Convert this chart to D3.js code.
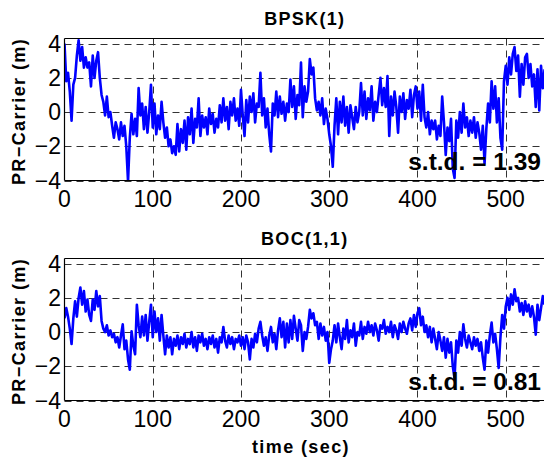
<!DOCTYPE html>
<html><head><meta charset="utf-8">
<script src="https://cdn.jsdelivr.net/npm/d3@7"></script>
<style>body{margin:0;background:#fff;} svg{display:block;}</style>
</head><body><svg id="c" width="544" height="459"></svg>
<script>
const timeStep = 2;
const bpsk = [
 4.0, 1.8, 2.3, 1.2, -0.5, 1.6, 2.0, 3.3, 4.2, 3.0,
 3.8, 2.6, 3.2, 2.6, 2.9, 1.5, 3.3, 2.0, 3.0, 3.5,
 2.0, 1.0, 0.6, -0.2, 0.9, -0.3, 0.0, -0.8, -1.5, -0.6,
 -1.0, -1.6, -0.6, -1.4, -0.8, -2.0, -4.05, -1.5, -0.1, -1.3,
 -0.4, -1.4, 1.4, -0.2, 0.5, -1.0, 0.3, -1.2, 0.0, 1.6,
 -0.9, 0.5, -1.3, -0.2, -1.0, 0.6, -0.6, -1.5, -0.9, -2.0,
 -1.6, -2.4, -2.0, -2.5, -0.7, -2.3, -1.0, -1.8, -0.5, -2.2,
 -0.3, -1.3, 0.2, -1.8, -0.4, -0.9, 0.8, -1.4, -0.2, -0.9,
 -0.3, -1.3, 0.2, -0.7, -0.1, -1.2, -0.4, -0.9, 0.4, -0.6,
 0.8, -0.5, 0.3, -1.0, 0.6, -0.2, 0.8, -0.5, 0.2, -0.8,
 1.3, -0.2, -1.4, 0.7, -0.6, 0.9, 0.0, 1.1, -0.6, 0.5,
 0.3, 2.3, -0.2, 0.8, -0.9, 0.2, -1.3, -2.3, 0.5, -0.2,
 1.2, -0.3, 0.9, -0.1, 0.6, -0.5, 0.5, 0.0, 1.9, 0.3,
 1.5, -0.4, 1.0, 0.4, 2.9, -0.3, 1.5, 0.6, 1.2, 3.1,
 2.2, 2.6, 0.8, 0.1, 0.6, -0.2, 0.8, -0.7, 0.2, -0.4,
 -1.3, -2.0, -3.2, -0.8, 0.8, -1.3, 0.6, -0.6, 0.9, -0.8,
 0.3, -1.2, 0.4, -0.3, -1.0, 0.3, -0.6, 0.0, 1.7, -0.2,
 1.2, -0.4, 0.8, 0.1, 1.5, -0.5, 0.6, 0.0, 1.0, 2.0,
 0.4, 1.4, 0.3, 2.1, -1.4, 0.9, -0.2, 1.2, 0.3, -1.2,
 0.9, 0.0, 1.1, -0.4, 0.7, 0.2, 1.3, -0.3, 1.0, 1.5,
 0.2, 1.2, -0.5, 1.6, -0.3, -0.9, 0.0, -1.3, -0.5, -1.0,
 -0.5, -1.6, -0.8, -1.4, 0.9, -0.6, -2.5, -0.9, -1.7, -0.4,
 -3.3, -3.85, -0.5, -1.5, 0.0, -1.2, 0.5, -0.9, -0.3, -1.4,
 -0.5, -1.2, -0.3, -1.5, -0.6, -1.2, -2.2, -0.8, -3.0, -1.0,
 0.5, -0.6, 1.8, 0.2, 1.5, -0.6, 0.8, -1.5, -2.2, 1.8,
 2.7, 1.6, 3.2, 2.2, 3.4, 3.8, 2.4, 3.3, 0.9, 2.8,
 1.6, 3.2, 3.4, 2.0, 2.8, 1.5, 2.2, 0.3, 2.5, 0.1,
 2.7, 1.4, 2.5
];
const boc = [
 0.8, 1.4, 0.9, 0.2, -0.7, 0.8, 1.8, 0.9, 2.0, 2.6,
 1.6, 2.4, 1.2, 1.9, 1.0, 0.65, 1.9, 1.3, 2.4, 1.5,
 2.1, 0.65, 0.2, 0.0, 0.4, -0.2, 0.1, -0.3, -0.1, -0.6,
 -0.3, -0.9, -0.2, 0.45, -1.0, -0.5, -1.6, -2.2, 0.05, -0.8,
 -1.3, 1.6, 0.4, -0.3, 0.9, -0.2, 1.0, -0.5, 0.6, 1.6,
 -0.3, 1.2, 0.0, 0.8, -0.5, 1.0, -0.2, -1.3, -0.2, -0.9,
 -0.3, -1.3, -0.4, -0.8, -0.2, -1.0, -0.3, -0.7, -0.1, -0.9,
 -0.4, -0.7, 0.0, -0.9, -0.3, -1.1, -0.2, -0.6, -0.1, -0.8,
 -0.4, -1.0, -0.3, -0.7, -0.2, -0.9, -0.4, -1.2, -0.3, -0.6,
 0.3, -0.5, -0.9, -0.2, -0.7, -0.3, -1.0, -0.4, -0.6, -0.2,
 -0.8, -0.3, -1.0, -0.2, -0.6, -1.6, -0.4, -0.9, -0.1, -0.6,
 0.2, 0.6, -0.2, -0.8, -0.3, -1.1, -0.2, 0.3, -0.6, -0.1,
 -1.0, 0.1, 0.8, -0.3, 0.6, -0.9, 0.5, -0.6, 0.7, -0.4,
 0.95, 0.2, -0.5, 0.7, 0.4, -1.1, 0.0, -0.4, 0.3, 1.3,
 0.8, 1.1, 0.4, 0.6, -0.4, 0.5, -0.2, 0.3, -0.5, 0.0,
 -1.8, -1.0, -0.5, 0.4, -0.6, 0.5, -0.3, -1.0, 0.2, -0.4,
 0.7, -0.6, 0.1, -0.3, 0.5, -0.8, 0.0, -0.2, 0.6, -0.4,
 0.3, -0.1, 0.6, 0.0, 0.4, -0.2, 0.5, 0.1, -0.5, 0.4,
 0.2, 0.7, -0.1, 0.3, 0.0, 0.6, -0.3, 0.4, 0.1, -0.4,
 0.5, 0.0, 0.6, 0.2, -0.1, 0.5, 0.8, 0.1, 1.0, 0.3,
 1.1, 1.4, 0.4, 0.9, 0.0, 0.4, -0.3, 0.3, -0.6, 0.2,
 -0.4, -1.0, 0.0, -0.5, -1.1, -0.3, -1.5, -0.4, -1.2, -0.6,
 -2.0, -2.7, -0.5, -1.2, 0.0, -0.8, 0.45, -0.4, -0.9, -0.2,
 -0.6, -1.0, -0.3, -0.8, -0.4, -1.1, -0.6, -1.5, -2.2, -0.5,
 -1.2, -0.2, 0.55, -0.6, -0.1, -1.0, -2.1, -0.3, 1.0, 0.2,
 1.5, 2.0, 1.3, 2.2, 1.6, 2.5, 1.8, 2.0, 1.2, 1.7,
 1.0, 1.8, 1.2, 1.6, 0.9, 1.5, 0.9, -0.15, 1.6, 0.7,
 1.4, 2.1, 1.6
];
const xTicks = [0, 100, 200, 300, 400, 500];
const yTicks = [-4, -2, 0, 2, 4];
const titles = ["BPSK(1)", "BOC(1,1)"];
const stdLabels = ["s.t.d. = 1.39", "s.t.d. = 0.81"];
const xLabel = "time (sec)";
const yLabel = "PR\u2212Carrier (m)";

const svg = d3.select("#c");
const x = d3.scaleLinear().domain([0, 544.5]).range([64.5, 545]);
const panels = [
  {top: 38.5, bottom: 180.5, data: bpsk, title: titles[0], std: stdLabels[0]},
  {top: 258.5, bottom: 400.5, data: boc, title: titles[1], std: stdLabels[1]}
];
const tickFont = "'Liberation Sans Narrow', 'Arial Narrow', 'Liberation Sans', Arial, sans-serif";
const boldFont = "'Liberation Sans', Arial, sans-serif";

panels.forEach((p, i) => {
  const y = d3.scaleLinear().domain([-4, 4.3]).range([p.bottom, p.top]);
  const g = svg.append("g");
  const clipId = "clip" + i;
  svg.append("defs").append("clipPath").attr("id", clipId)
    .append("rect").attr("x", x.range()[0]).attr("y", p.top)
    .attr("width", x.range()[1] - x.range()[0]).attr("height", p.bottom - p.top);

  // grid
  g.selectAll(".vg").data(xTicks.filter(d => d > 0)).join("line")
    .attr("x1", d => Math.round(x(d)) + 0.5).attr("x2", d => Math.round(x(d)) + 0.5)
    .attr("y1", p.top).attr("y2", p.bottom)
    .attr("stroke", "#333").attr("stroke-width", 1).attr("stroke-dasharray", "7,5");
  g.selectAll(".hg").data(yTicks).join("line")
    .attr("x1", x.range()[0]).attr("x2", 544)
    .attr("y1", d => Math.round(y(d)) + 0.5).attr("y2", d => Math.round(y(d)) + 0.5)
    .attr("stroke", "#333").attr("stroke-width", 1).attr("stroke-dasharray", "7,5");

  // data line
  const line = d3.line().x((d, k) => x(k * timeStep)).y(d => y(d));
  g.append("path").datum(p.data).attr("d", line)
    .attr("clip-path", `url(#${clipId})`)
    .attr("fill", "none").attr("stroke", "#0000ff").attr("stroke-width", 2.6)
    .attr("stroke-linejoin", "round");

  // box
  g.append("line").attr("x1", x.range()[0]).attr("x2", 544).attr("y1", p.top).attr("y2", p.top)
    .attr("stroke", "#000").attr("stroke-width", 1);
  g.append("line").attr("x1", x.range()[0]).attr("x2", 544).attr("y1", p.bottom).attr("y2", p.bottom)
    .attr("stroke", "#000").attr("stroke-width", 1);
  g.append("line").attr("x1", x.range()[0]).attr("x2", x.range()[0]).attr("y1", p.top).attr("y2", p.bottom)
    .attr("stroke", "#000").attr("stroke-width", 1.2);

  // tick labels
  g.selectAll(".xt").data(xTicks).join("text")
    .attr("x", d => x(d)).attr("y", p.bottom + 26)
    .attr("text-anchor", "middle").attr("font-family", tickFont).attr("font-size", 23)
    .attr("fill", "#000").text(d => d);
  g.selectAll(".yt").data(yTicks).join("text")
    .attr("x", 61).attr("y", d => y(d) + 8)
    .attr("text-anchor", "end").attr("font-family", tickFont).attr("font-size", 23)
    .attr("fill", "#000").text(d => d < 0 ? "\u2212" + Math.abs(d) : String(d));

  // title
  g.append("text").attr("x", (x.range()[0] + x.range()[1]) / 2).attr("y", p.top - 13.5)
    .attr("text-anchor", "middle").attr("font-family", boldFont).attr("font-weight", "bold")
    .attr("font-size", 18).attr("letter-spacing", 1.3).text(p.title);

  // y label
  const cy = (p.top + p.bottom) / 2 + 2;
  g.append("text").attr("transform", `translate(25,${cy}) rotate(-90)`)
    .attr("text-anchor", "middle").attr("font-family", boldFont).attr("font-weight", "bold")
    .attr("font-size", 18).attr("letter-spacing", 1.4).text(yLabel);

  // std label
  g.append("text").attr("x", 541).attr("y", p.bottom - 10.5)
    .attr("text-anchor", "end").attr("font-family", boldFont).attr("font-weight", "bold")
    .attr("font-size", 24.5).text(p.std);
});

svg.append("text").attr("x", 301).attr("y", 453)
  .attr("text-anchor", "middle").attr("font-family", boldFont).attr("font-weight", "bold")
  .attr("font-size", 18).attr("letter-spacing", 1.4).text(xLabel);
</script>
</body></html>
